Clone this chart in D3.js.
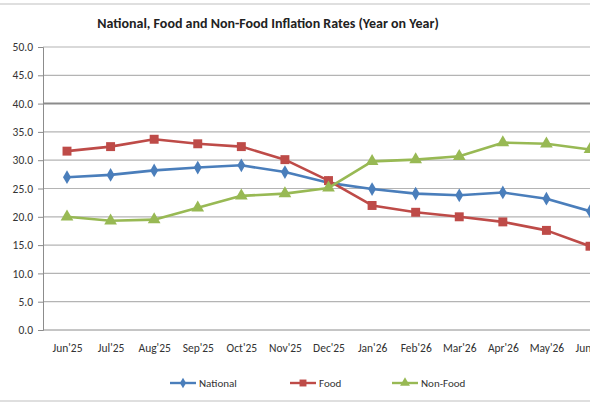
<!DOCTYPE html>
<html><head><meta charset="utf-8">
<script src="https://cdn.jsdelivr.net/npm/d3@7"></script>
<style>body{margin:0;background:#fff}svg{display:block;font-family:Calibri,"Liberation Sans","Open Sans",sans-serif}</style>
</head><body><svg id="c" width="590" height="410"></svg>
<script>
const categories = ["Jun'25","Jul'25","Aug'25","Sep'25","Oct'25","Nov'25","Dec'25","Jan'26","Feb'26","Mar'26","Apr'26","May'26","Jun'26"];
const national = [27.0,27.4,28.2,28.7,29.1,27.9,26.0,24.9,24.1,23.8,24.3,23.2,21.0];
const food     = [31.6,32.4,33.7,32.9,32.4,30.1,26.4,22.0,20.8,20.0,19.1,17.6,14.8];
const nonFood  = [20.0,19.3,19.5,21.6,23.7,24.1,25.1,29.8,30.1,30.7,33.1,32.9,31.9];
const yTicks = [0,5,10,15,20,25,30,35,40,45,50];
const seriesNames = ["National","Food","Non-Food"];
const colors = ["#4a7ebb","#be4b48","#98b954"];
const title = "National, Food and Non-Food Inflation Rates (Year on Year)";

const svg = d3.select("#c");
const x = d3.scalePoint().domain(categories).range([67, 590]);
const y = d3.scaleLinear().domain([0,50]).range([330, 47]);

svg.append("line").attr("x1",0).attr("x2",590).attr("y1",4).attr("y2",4).attr("stroke","#d4d4d4").attr("stroke-width",1.5);
svg.append("line").attr("x1",0).attr("x2",590).attr("y1",401).attr("y2",401).attr("stroke","#d4d4d4").attr("stroke-width",1.5);

svg.append("text").attr("x",268).attr("y",28).attr("text-anchor","middle")
  .attr("font-size",14).attr("font-weight","bold").attr("fill","#222").text(title);

svg.append("g").selectAll("line").data(yTicks.filter(d=>d>0)).join("line")
  .attr("x1",43).attr("x2",590).attr("y1",d=>y(d)).attr("y2",d=>y(d))
  .attr("stroke",d=>d===40?"#8c8c8c":"#b4b4b4").attr("stroke-width",d=>d===40?2:1.2);

const ya = svg.append("g").attr("transform","translate(43,0)")
  .call(d3.axisLeft(y).tickValues(yTicks).tickFormat(d3.format(".1f")).tickSize(5).tickPadding(5));
ya.select(".domain").attr("stroke","#8c8c8c");
ya.selectAll(".tick line").attr("stroke","#8c8c8c");
ya.selectAll("text").attr("font-size",11.5).attr("fill","#333").attr("font-family","Calibri,'Liberation Sans',sans-serif");

const xa = svg.append("g").attr("transform","translate(0,330)")
  .call(d3.axisBottom(x).tickSize(0).tickPadding(14));
xa.select(".domain").attr("stroke","#8c8c8c").attr("d","M43,0H590");
xa.selectAll("text").attr("font-size",11.5).attr("fill","#333").attr("font-family","Calibri,'Liberation Sans',sans-serif");

const data = [national, food, nonFood];
const line = d3.line().x((d,i)=>x(categories[i])).y(d=>y(d));
const sym = [d3.symbolDiamond, d3.symbolSquare, d3.symbolTriangle];
const sizes = [55, 80, 70];

data.forEach((vals, s) => {
  svg.append("path").datum(vals).attr("d", line).attr("fill","none")
    .attr("stroke", colors[s]).attr("stroke-width", 2.6).attr("stroke-linejoin","round");
  svg.append("g").selectAll("path").data(vals).join("path")
    .attr("transform",(d,i)=>`translate(${x(categories[i])},${y(d)})`)
    .attr("d", d3.symbol().type(sym[s]).size(sizes[s])).attr("fill", colors[s]);
});

const legX = [170, 290, 392];
seriesNames.forEach((n,s)=>{
  const g = svg.append("g").attr("transform",`translate(${legX[s]},383)`);
  g.append("line").attr("x1",0).attr("x2",26).attr("stroke",colors[s]).attr("stroke-width",2.4);
  g.append("path").attr("transform","translate(13,0)").attr("d",d3.symbol().type(sym[s]).size(sizes[s]*0.6)).attr("fill",colors[s]);
  g.append("text").attr("x",29).attr("y",4).attr("font-size",11).attr("fill","#333").text(n);
});
</script></body></html>
